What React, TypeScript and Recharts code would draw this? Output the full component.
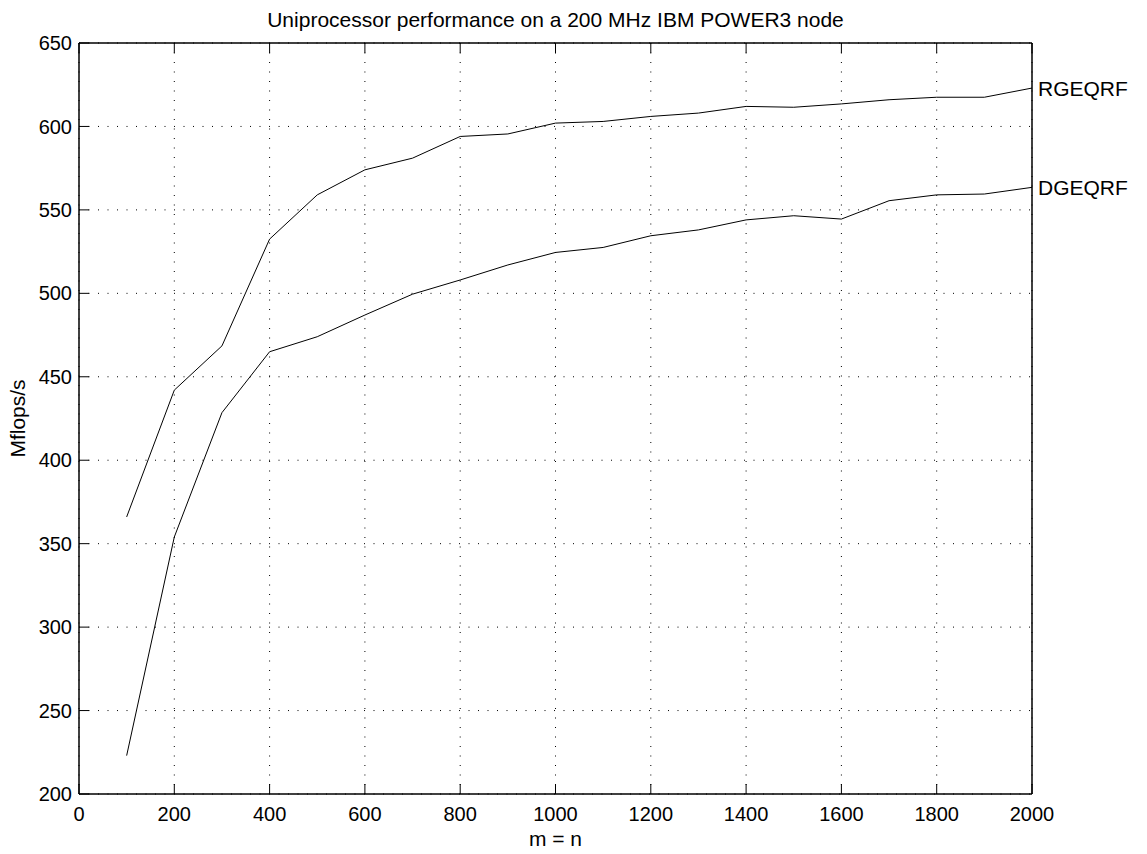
import React from 'react';
import { LineChart, Line, XAxis, YAxis, CartesianGrid, Label } from 'recharts';

const sizes = [100, 200, 300, 400, 500, 600, 700, 800, 900, 1000, 1100, 1200, 1300, 1400, 1500, 1600, 1700, 1800, 1900, 2000];
const rgeqrf = [366, 442, 468.5, 532.5, 559, 574, 581, 594, 595.5, 602, 603, 606, 608, 612, 611.5, 613.5, 616, 617.5, 617.5, 623];
const dgeqrf = [223, 354, 428.5, 465, 474, 487, 499.5, 508, 517, 524.5, 527.5, 534.5, 538, 544, 546.5, 544.5, 555.5, 559, 559.5, 563.5];
const seriesNames = ['RGEQRF', 'DGEQRF'];
const xTicks = [0, 200, 400, 600, 800, 1000, 1200, 1400, 1600, 1800, 2000];
const yTicks = [200, 250, 300, 350, 400, 450, 500, 550, 600, 650];
const title = 'Uniprocessor performance on a 200 MHz IBM POWER3 node';
const xLabel = 'm = n';
const yLabel = 'Mflops/s';

const data = sizes.map((n, i) => ({ n, rgeqrf: rgeqrf[i], dgeqrf: dgeqrf[i] }));

const FONT = '"Liberation Sans", Arial, Helvetica, sans-serif';
const FS = 20;
const FL = 21;
const TICK = 10;

const BottomTick = (props: any) => {
  const { x, y, payload } = props;
  const axisY = y - 13;
  return (
    <g>
      <line x1={x} y1={axisY} x2={x} y2={axisY - TICK} stroke="#000" strokeWidth={1} />
      <text x={x} y={y} dy="0.71em" textAnchor="middle" fontFamily={FONT} fontSize={FS} fill="#000">
        {payload.value}
      </text>
    </g>
  );
};

const LeftTick = (props: any) => {
  const { x, y, payload } = props;
  const axisX = x + 7;
  return (
    <g>
      <line x1={axisX} y1={y} x2={axisX + TICK} y2={y} stroke="#000" strokeWidth={1} />
      <text x={x} y={y} dy="0.355em" textAnchor="end" fontFamily={FONT} fontSize={FS} fill="#000">
        {payload.value}
      </text>
    </g>
  );
};

const TopTick = (props: any) => {
  const { x, y } = props;
  return <line x1={x} y1={y} x2={x} y2={y + TICK} stroke="#000" strokeWidth={1} />;
};

const RightTick = (props: any) => {
  const { x, y } = props;
  return <line x1={x} y1={y} x2={x - TICK} y2={y} stroke="#000" strokeWidth={1} />;
};

const endLabel = (name: string) => (props: any) => {
  const { x, y, index } = props;
  if (index !== sizes.length - 1) return <g />;
  return (
    <text x={x + 6} y={y} dy="0.355em" textAnchor="start" fontFamily={FONT} fontSize={FL} fill="#000">
      {name}
    </text>
  );
};

export default function App() {
  return (
    <div style={{ position: 'absolute', left: 0, top: 0, background: '#fff' }}>
      <LineChart width={1147} height={854} data={data} margin={{ top: 42, right: 114, bottom: 0, left: 0 }}>
        <CartesianGrid stroke="#000" strokeWidth={1} strokeDasharray="1 8.5" />
        <XAxis
          dataKey="n"
          type="number"
          domain={[0, 2000]}
          ticks={xTicks}
          height={60}
          axisLine={{ stroke: '#000', strokeWidth: 1.5 }}
          tickLine={false}
          tickSize={0}
          tickMargin={13}
          tick={BottomTick}
          interval={0}
        >
          <Label
            content={(p: any) => {
              const vb = p.viewBox || { x: 79, y: 794, width: 953, height: 60 };
              return (
                <text x={vb.x + vb.width / 2} y={vb.y + 52} textAnchor="middle" fontFamily={FONT} fontSize={FL} fill="#000">
                  {xLabel}
                </text>
              );
            }}
          />
        </XAxis>
        <XAxis
          xAxisId="top"
          orientation="top"
          dataKey="n"
          type="number"
          domain={[0, 2000]}
          ticks={xTicks}
          height={1}
          axisLine={{ stroke: '#000', strokeWidth: 1.5 }}
          tickLine={false}
          tickSize={0}
          tickMargin={0}
          tick={TopTick}
          interval={0}
        >
          <Label
            content={(p: any) => {
              const vb = p.viewBox || { x: 79, y: 42, width: 953, height: 1 };
              return (
                <text x={vb.x + vb.width / 2} y={vb.y + vb.height - 16.5} textAnchor="middle" fontFamily={FONT} fontSize={FL} fill="#000">
                  {title}
                </text>
              );
            }}
          />
        </XAxis>
        <YAxis
          type="number"
          domain={[200, 650]}
          ticks={yTicks}
          width={79}
          axisLine={{ stroke: '#000', strokeWidth: 1.5 }}
          tickLine={false}
          tickSize={0}
          tickMargin={7}
          tick={LeftTick}
          interval={0}
        >
          <Label
            content={(p: any) => {
              const vb = p.viewBox || { x: 0, y: 43, width: 79, height: 751 };
              const cx = vb.x + 25;
              const cy = vb.y + vb.height / 2;
              return (
                <text x={cx} y={cy} transform={`rotate(-90, ${cx}, ${cy})`} textAnchor="middle" fontFamily={FONT} fontSize={FL} fill="#000">
                  {yLabel}
                </text>
              );
            }}
          />
        </YAxis>
        <YAxis
          yAxisId="right"
          orientation="right"
          type="number"
          domain={[200, 650]}
          ticks={yTicks}
          width={1}
          axisLine={{ stroke: '#000', strokeWidth: 1.5 }}
          tickLine={false}
          tickSize={0}
          tickMargin={0}
          tick={RightTick}
          interval={0}
        />
        <Line
          type="linear"
          dataKey="rgeqrf"
          stroke="#000"
          strokeWidth={1}
          dot={false}
          isAnimationActive={false}
          label={endLabel(seriesNames[0])}
        />
        <Line
          type="linear"
          dataKey="dgeqrf"
          stroke="#000"
          strokeWidth={1}
          dot={false}
          isAnimationActive={false}
          label={endLabel(seriesNames[1])}
        />
      </LineChart>
    </div>
  );
}
